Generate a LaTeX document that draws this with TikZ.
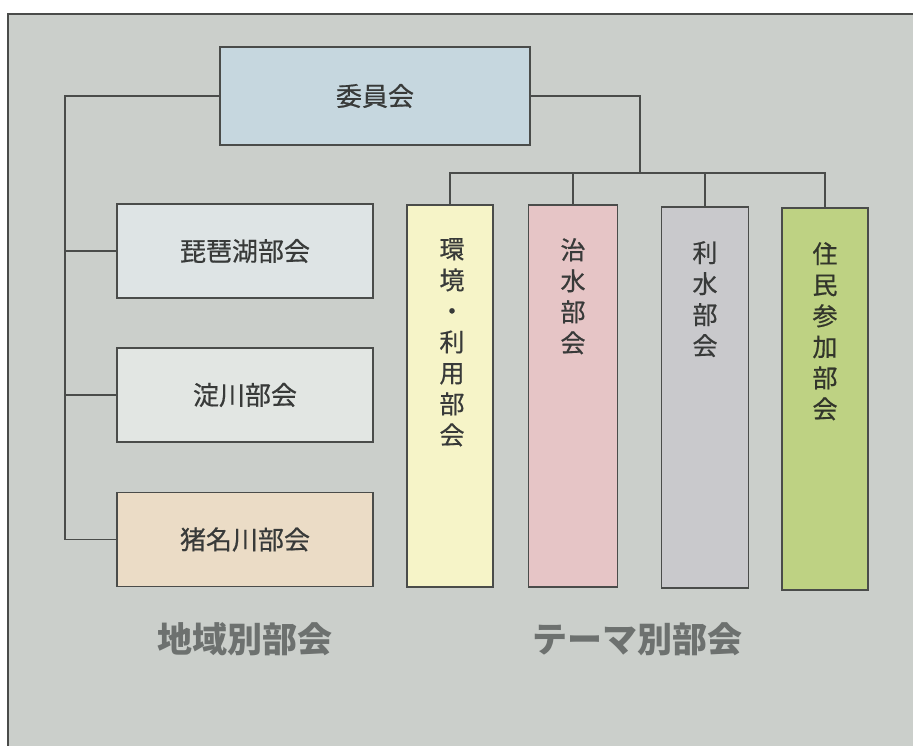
\documentclass[tikz,border=0pt]{standalone}
\usepackage{fontspec}
\setmainfont{Noto Sans CJK JP}
\newfontfamily\medfont[FakeBold=0.6]{Noto Sans CJK JP}
\begin{document}
\begin{tikzpicture}[x=1pt,y=-1pt,
  box/.style={draw=linec, line width=1.8pt, inner sep=0pt, text=txt,
    font=\medfont\fontsize{26}{30}\selectfont},
  vbox/.style={draw=linec, line width=1.8pt, inner sep=0pt, minimum width=86pt, minimum height=382pt},
  vtext/.style={anchor=north, inner sep=0pt, align=center, text=txt, font=\medfont\fontsize{25}{31}\selectfont},
  conn/.style={draw=linec, line width=1.5pt},
  captionlabel/.style={text=captxt, font=\fontsize{35}{40}\selectfont\bfseries}]
\definecolor{bg}{HTML}{CBCFCB}
\definecolor{linec}{HTML}{4A4C4A}
\definecolor{txt}{HTML}{383A39}
\definecolor{captxt}{HTML}{6D716F}
\definecolor{cIin}{HTML}{C6D7DF}
\definecolor{cBiwa}{HTML}{DEE4E5}
\definecolor{cYodo}{HTML}{E2E6E3}
\definecolor{cIna}{HTML}{EBDCC6}
\definecolor{cKan}{HTML}{F6F4C8}
\definecolor{cChi}{HTML}{E6C5C6}
\definecolor{cRi}{HTML}{C9C9CC}
\definecolor{cJu}{HTML}{BED283}
\useasboundingbox (0,0) rectangle (913,746);
\fill[white] (0,0) rectangle (913,746);
\fill[bg] (8,14) rectangle (913,746);
\draw[linec, line width=1.4pt] (8,746) -- (8,14) -- (913,14);

\node[box, fill=cIin, minimum width=310pt, minimum height=98pt] (iin) at (375,96) {委員会};
\node[box, fill=cBiwa, minimum width=256pt, minimum height=94pt] (b1) at (245,251) {琵琶湖部会};
\node[box, fill=cYodo, minimum width=256pt, minimum height=94pt] (b2) at (245,395) {淀川部会};
\node[box, fill=cIna, minimum width=256pt, minimum height=94pt] (b3) at (245,539.5) {猪名川部会};

\node[vbox, fill=cKan] (t1) at (450,396) {};
\node[vbox, fill=cChi, minimum width=89pt] (t2) at (573,396) {};
\node[vbox, fill=cRi, minimum width=87pt, minimum height=381pt] (t3) at (705,397.5) {};
\node[vbox, fill=cJu] (t4) at (825,399) {};

\node[vtext] (t1l) at (452,238) {環\\境\\・\\利\\用\\部\\会};
\node[vtext] (t2l) at (573,238) {治\\水\\部\\会};
\node[vtext] (t3l) at (705,241) {利\\水\\部\\会};
\node[vtext, text=txt!80!cJu!60!black] (t4l) at (825,242) {住\\民\\参\\加\\部\\会};

\coordinate (L) at (65,96);
\coordinate (R) at (640,96);
\coordinate (busL) at (450,173);
\coordinate (busR) at (825,173);
\coordinate (busM) at (640,173);

\draw[conn] (iin.west |- L) -- (L) |- (b3.west);
\draw[conn] (b1.west -| L) -- (b1.west);
\draw[conn] (b2.west -| L) -- (b2.west);
\draw[conn] (iin.east |- R) -- (R) -- (busM);
\draw[conn] (t1.north) -- (busL) -- (busR) -- (t4.north);
\draw[conn] (t2.north |- busL) -- (t2.north);
\draw[conn] (t3.north |- busL) -- (t3.north);

\node[captionlabel] (capL) at (245,639) {地域別部会};
\node[captionlabel] (capR) at (637,639) {テーマ別部会};
\end{tikzpicture}
\end{document}
